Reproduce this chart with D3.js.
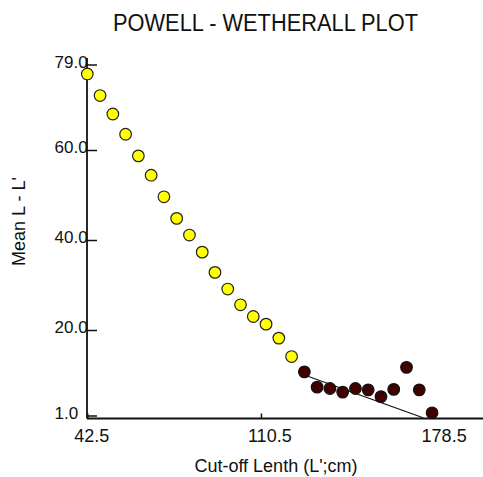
<!DOCTYPE html>
<html>
<head>
<meta charset="utf-8">
<script src="https://cdn.jsdelivr.net/npm/d3@7/dist/d3.min.js"></script>
<style>
  html, body { margin: 0; padding: 0; background: #fff; }
  svg { display: block; font-family: "Liberation Sans", Arial, sans-serif; }
</style>
</head>
<body>
<script>
// Powell-Wetherall plot: mean length above cut-off vs cut-off length
const titleText = "POWELL - WETHERALL PLOT";
const xLabel = "Cut-off Lenth (L';cm)";
const yLabel = "Mean L - L'";

// points left out of the regression
const excludedL = [42.5, 47.5, 52.5, 57.5, 62.5, 67.5, 72.5, 77.5, 82.5, 87.5, 92.5, 97.5, 102.5, 107.5, 112.5, 117.5, 122.5];
const excludedMean = [76.9, 72.1, 68.0, 63.5, 58.7, 54.4, 49.6, 44.8, 41.1, 37.3, 32.8, 29.1, 25.6, 23.0, 21.3, 18.2, 14.1];

// points used for the regression
const usedL = [127.5, 132.5, 137.5, 142.5, 147.5, 152.5, 157.5, 162.5, 167.5, 172.5, 177.5];
const usedMean = [10.7, 7.3, 7.0, 6.2, 7.0, 6.7, 5.2, 6.8, 11.7, 6.7, 1.6];

// fitted regression line end points
const fitL = [127.5, 174.0];
const fitMean = [10.0, 0.5];

const xTicks = [42.5, 110.5, 178.5];
const yTicks = [1.0, 20.0, 40.0, 60.0, 79.0];

const W = 483, H = 477;
const svg = d3.select("body").append("svg").attr("width", W).attr("height", H);

const x = d3.scaleLinear().domain([42.5, 178.5]).range([87.3, 434.6]);
const y = d3.scaleLinear().domain([1, 79]).range([415.5, 64.5]);
const axisX = 87;
const axisY = 418.5;

// title
svg.append("text")
  .attr("x", 265.5).attr("y", 30.5)
  .attr("text-anchor", "middle")
  .attr("font-size", 23)
  .attr("textLength", 305).attr("lengthAdjust", "spacingAndGlyphs")
  .attr("fill", "#111")
  .text(titleText);

// y axis
const yAxis = svg.append("g")
  .attr("transform", `translate(${axisX},0)`)
  .call(d3.axisRight(y).tickValues(yTicks).tickSize(10).tickSizeOuter(0).tickFormat(d3.format(".1f")));
yAxis.select(".domain").remove();
yAxis.selectAll(".tick line").attr("stroke", "#111").attr("stroke-width", 1.5);
yAxis.selectAll(".tick text")
  .attr("x", -32.5).attr("dy", "0.17em")
  .attr("text-anchor", "start")
  .attr("font-size", 17).attr("font-family", "Liberation Sans, Arial, sans-serif")
  .attr("fill", "#111");
svg.append("line")
  .attr("x1", axisX).attr("x2", axisX)
  .attr("y1", y(79) - 6.5).attr("y2", axisY)
  .attr("stroke", "#111").attr("stroke-width", 1.8);

// x axis
const xAxis = svg.append("g")
  .attr("transform", `translate(0,${axisY})`)
  .call(d3.axisTop(x).tickValues(xTicks).tickSize(5).tickSizeOuter(0).tickFormat(d3.format(".1f")));
xAxis.select(".domain").remove();
xAxis.selectAll(".tick line").attr("stroke", "#111").attr("stroke-width", 1.5);
xAxis.selectAll(".tick text")
  .attr("x", -13.5).attr("y", 23.2).attr("dy", 0)
  .attr("text-anchor", "start")
  .attr("font-size", 18).attr("font-family", "Liberation Sans, Arial, sans-serif")
  .attr("fill", "#111");
svg.append("line")
  .attr("x1", axisX).attr("x2", W)
  .attr("y1", axisY).attr("y2", axisY)
  .attr("stroke", "#111").attr("stroke-width", 1.8);

// axis titles
svg.append("text")
  .attr("x", 276).attr("y", 472)
  .attr("text-anchor", "middle")
  .attr("font-size", 18).attr("fill", "#111")
  .text(xLabel);
svg.append("text")
  .attr("transform", "translate(25,221.5) rotate(-90)")
  .attr("text-anchor", "middle")
  .attr("font-size", 18).attr("fill", "#111")
  .text(yLabel);

// regression line
svg.append("path")
  .datum(d3.zip(fitL, fitMean))
  .attr("d", d3.line().x(d => x(d[0])).y(d => y(d[1])))
  .attr("fill", "none").attr("stroke", "#111").attr("stroke-width", 1.2);

// points
svg.append("g").selectAll("circle")
  .data(d3.zip(excludedL, excludedMean))
  .join("circle")
  .attr("cx", d => x(d[0])).attr("cy", d => y(d[1]))
  .attr("r", 5.8)
  .attr("fill", "#ffff00").attr("stroke", "#222").attr("stroke-width", 1.2);

svg.append("g").selectAll("circle")
  .data(d3.zip(usedL, usedMean))
  .join("circle")
  .attr("cx", d => x(d[0])).attr("cy", d => y(d[1]))
  .attr("r", 5.8)
  .attr("fill", "#400000").attr("stroke", "#111").attr("stroke-width", 1.2);
</script>
</body>
</html>
